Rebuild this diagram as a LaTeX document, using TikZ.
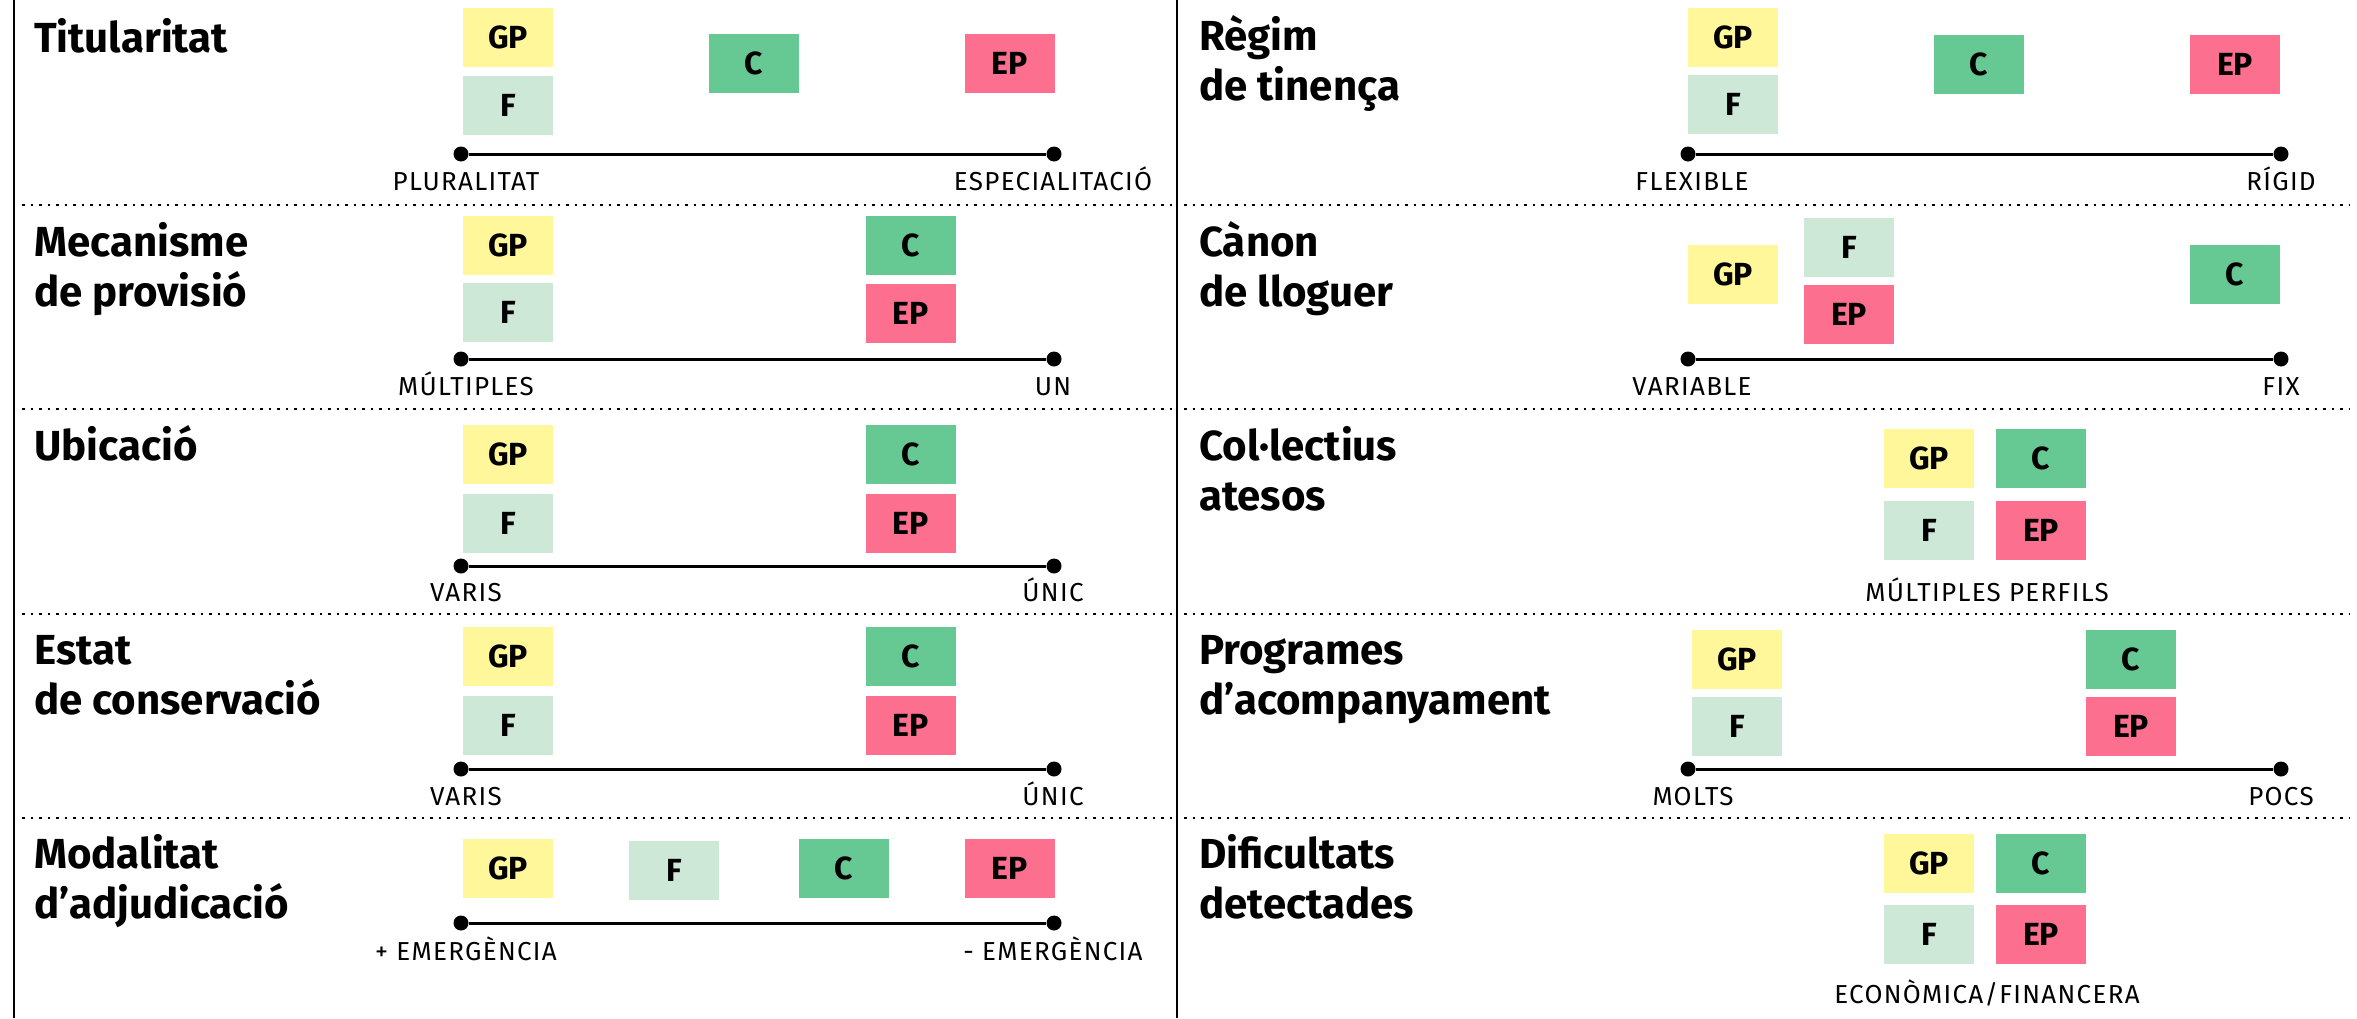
\documentclass[tikz,border=0pt]{standalone}
\usepackage{fontspec}
\setmainfont{Fira Sans}
\newfontfamily\endfont[LetterSpace=5]{Fira Sans}

\definecolor{gpyellow}{HTML}{FFF799}
\definecolor{fgreen}{HTML}{CDE8D6}
\definecolor{cgreen}{HTML}{66C892}
\definecolor{eppink}{HTML}{FC6F8E}

\tikzset{
  tag/.style={minimum width=90pt,minimum height=59pt,inner sep=0pt,
    font=\fontsize{32}{34}\selectfont\bfseries},
  tagGP/.style={tag,fill=gpyellow},
  tagF/.style={tag,fill=fgreen},
  tagC/.style={tag,fill=cgreen},
  tagEP/.style={tag,fill=eppink},
  % base anchor of a two-line title sits on its last line
  rowtitle/.style={anchor=base west,align=left,inner sep=0pt,
    font=\fontsize{42}{50}\selectfont\bfseries},
  endlabel/.style={anchor=base,inner sep=0pt,font=\endfont\fontsize{26}{28}\selectfont},
  enddot/.style={circle,fill=black,inner sep=0pt,minimum size=15pt},
  scaleline/.style={line width=3pt},
  rowsep/.style={line width=2.5pt,dash pattern=on 2.5pt off 6pt},
  frame/.style={line width=2.5pt}
}

\begin{document}
\begin{tikzpicture}[x=1pt,y=-1pt]
  \useasboundingbox (0,0) rectangle (2357,1018);

  \draw[frame] (14,0) -- (14,1018);
  \draw[frame] (1177,0) -- (1177,1018);

  \draw[rowsep] (22,205) -- (1172,205);
  \draw[rowsep] (1184,205) -- (2350,205);
  \draw[rowsep] (22,409) -- (1172,409);
  \draw[rowsep] (1184,409) -- (2350,409);
  \draw[rowsep] (22,614) -- (1172,614);
  \draw[rowsep] (1184,614) -- (2350,614);
  \draw[rowsep] (22,818) -- (1172,818);
  \draw[rowsep] (1184,818) -- (2350,818);

  % titularitat
  \node[rowtitle] (titName) at (34,52) {Titularitat};
  \node[tagGP] (titGP) at (508,37.5) {GP};
  \node[tagF] (titF) at (508,105.5) {F};
  \node[tagC] (titC) at (754,63.5) {C};
  \node[tagEP] (titEP) at (1010,63.5) {EP};
  \node[enddot] (titL) at (461,154) {};
  \node[enddot] (titR) at (1054,154) {};
  \draw[scaleline] (titL) -- (titR);
  \node[endlabel] (titLtext) at (466,190) {PLURALITAT};
  \node[endlabel] (titRtext) at (1053,190) {ESPECIALITACIÓ};

  % mecanisme de provisio
  \node[rowtitle] (mecName) at (34,306) {Mecanisme\\de provisió};
  \node[tagGP] (mecGP) at (508,245.5) {GP};
  \node[tagF] (mecF) at (508,312.5) {F};
  \node[tagC] (mecC) at (911,245.5) {C};
  \node[tagEP] (mecEP) at (911,313.5) {EP};
  \node[enddot] (mecL) at (461,359) {};
  \node[enddot] (mecR) at (1054,359) {};
  \draw[scaleline] (mecL) -- (mecR);
  \node[endlabel] (mecLtext) at (466,395) {MÚLTIPLES};
  \node[endlabel] (mecRtext) at (1053,395) {UN};

  % ubicacio
  \node[rowtitle] (ubiName) at (34,460) {Ubicació};
  \node[tagGP] (ubiGP) at (508,454.5) {GP};
  \node[tagF] (ubiF) at (508,523) {F};
  \node[tagC] (ubiC) at (911,454.5) {C};
  \node[tagEP] (ubiEP) at (911,523) {EP};
  \node[enddot] (ubiL) at (461,566) {};
  \node[enddot] (ubiR) at (1054,566) {};
  \draw[scaleline] (ubiL) -- (ubiR);
  \node[endlabel] (ubiLtext) at (466,601) {VARIS};
  \node[endlabel] (ubiRtext) at (1053,601) {ÚNIC};

  % estat de conservacio
  \node[rowtitle] (estName) at (34,714) {Estat\\de conservació};
  \node[tagGP] (estGP) at (508,656.5) {GP};
  \node[tagF] (estF) at (508,725) {F};
  \node[tagC] (estC) at (911,656.5) {C};
  \node[tagEP] (estEP) at (911,725) {EP};
  \node[enddot] (estL) at (461,769) {};
  \node[enddot] (estR) at (1054,769) {};
  \draw[scaleline] (estL) -- (estR);
  \node[endlabel] (estLtext) at (466,805) {VARIS};
  \node[endlabel] (estRtext) at (1053,805) {ÚNIC};

  % modalitat d'adjudicacio
  \node[rowtitle] (modName) at (34,918) {Modalitat\\d’adjudicació};
  \node[tagGP] (modGP) at (508,868.5) {GP};
  \node[tagF] (modF) at (674,870) {F};
  \node[tagC] (modC) at (844,868.5) {C};
  \node[tagEP] (modEP) at (1010,868.5) {EP};
  \node[enddot] (modL) at (461,923) {};
  \node[enddot] (modR) at (1054,923) {};
  \draw[scaleline] (modL) -- (modR);
  \node[endlabel] (modLtext) at (466,960) {+ EMERGÈNCIA};
  \node[endlabel] (modRtext) at (1053,960) {- EMERGÈNCIA};

  % regim de tinenca
  \node[rowtitle] (regName) at (1199,100) {Règim\\de tinença};
  \node[tagGP] (regGP) at (1733,37.5) {GP};
  \node[tagF] (regF) at (1733,104.5) {F};
  \node[tagC] (regC) at (1979,64.5) {C};
  \node[tagEP] (regEP) at (2235,64.5) {EP};
  \node[enddot] (regL) at (1688,154) {};
  \node[enddot] (regR) at (2281,154) {};
  \draw[scaleline] (regL) -- (regR);
  \node[endlabel] (regLtext) at (1692,190) {FLEXIBLE};
  \node[endlabel] (regRtext) at (2281,190) {RÍGID};

  % canon de lloguer
  \node[rowtitle] (canName) at (1199,306) {Cànon\\de lloguer};
  \node[tagGP] (canGP) at (1733,274) {GP};
  \node[tagF] (canF) at (1849,247.5) {F};
  \node[tagEP] (canEP) at (1849,314.5) {EP};
  \node[tagC] (canC) at (2235,274) {C};
  \node[enddot] (canL) at (1688,359) {};
  \node[enddot] (canR) at (2281,359) {};
  \draw[scaleline] (canL) -- (canR);
  \node[endlabel] (canLtext) at (1692,395) {VARIABLE};
  \node[endlabel] (canRtext) at (2281,395) {FIX};

  % col.lectius atesos
  \node[rowtitle] (colName) at (1199,510) {Col·lectius\\atesos};
  \node[tagGP] (colGP) at (1929,458.5) {GP};
  \node[tagC] (colC) at (2041,458.5) {C};
  \node[tagF] (colF) at (1929,530.5) {F};
  \node[tagEP] (colEP) at (2041,530.5) {EP};
  \node[endlabel] (colText) at (1987,601) {MÚLTIPLES PERFILS};

  % programes d'acompanyament
  \node[rowtitle] (proName) at (1199,714) {Programes\\d’acompanyament};
  \node[tagGP] (proGP) at (1737,659.5) {GP};
  \node[tagF] (proF) at (1737,726.5) {F};
  \node[tagC] (proC) at (2131,659.5) {C};
  \node[tagEP] (proEP) at (2131,726.5) {EP};
  \node[enddot] (proL) at (1688,769) {};
  \node[enddot] (proR) at (2281,769) {};
  \draw[scaleline] (proL) -- (proR);
  \node[endlabel] (proLtext) at (1693,805) {MOLTS};
  \node[endlabel] (proRtext) at (2281,805) {POCS};

  % dificultats detectades
  \node[rowtitle] (difName) at (1199,918) {Dificultats\\detectades};
  \node[tagGP] (difGP) at (1929,863) {GP};
  \node[tagC] (difC) at (2041,863) {C};
  \node[tagF] (difF) at (1929,934.5) {F};
  \node[tagEP] (difEP) at (2041,934.5) {EP};
  \node[endlabel] (difText) at (1987,1003) {ECONÒMICA/FINANCERA};
\end{tikzpicture}
\end{document}
